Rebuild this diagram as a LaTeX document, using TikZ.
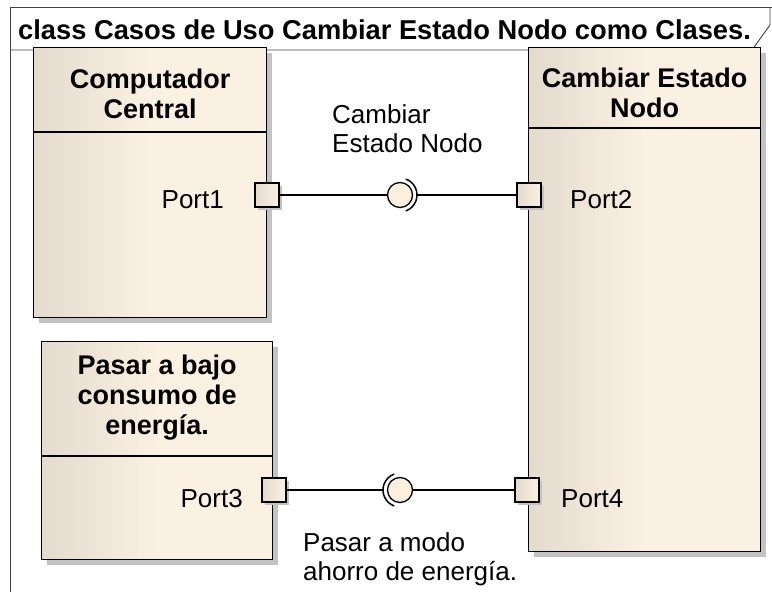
\documentclass[tikz,border=0pt]{standalone}
\usepackage{fontspec}
\setmainfont{Liberation Sans}
\usetikzlibrary{positioning, shadows, calc}

\definecolor{classleft}{RGB}{227,219,206}
\definecolor{classright}{RGB}{251,241,227}
\definecolor{ballfill}{RGB}{251,239,222}
\definecolor{shadowgray}{RGB}{195,195,195}

\begin{document}
\begin{tikzpicture}[
		x=1pt, y=-1pt,
		every node/.style={inner sep=0pt, font=\fontsize{26}{29}\selectfont},
		classbox/.style={draw=black, line width=1.4pt, left color=classleft, right color=classright, middle color=classright,
			drop shadow={shadow xshift=5pt, shadow yshift=-5pt, fill=shadowgray, opacity=1}},
		classtitle/.style={align=center, font=\bfseries\fontsize{27}{30}\selectfont},
		portbox/.style={draw=black, line width=1.3pt, minimum size=24pt, left color=classleft, right color=classright,
			drop shadow={shadow xshift=3pt, shadow yshift=-3pt, fill=shadowgray, opacity=1}},
		portlabel/.style={font=\fontsize{26}{29}\selectfont},
		ball/.style={circle, draw=black, line width=1.3pt, fill=ballfill, minimum size=25pt},
		conn/.style={draw=black, line width=1.3pt},
		frameline/.style={draw=black!75, line width=0.9pt},
		]
		\useasboundingbox (0,0) rectangle (772,592);
		
		% Diagram frame and name tab
		\draw[frameline] (10,592) -- (10,7) -- (772,7);
		\draw[frameline] (10,50) -- (752,50) -- (770,25) -- (770,7);
		\node[anchor=west, font=\bfseries\fontsize{27.3}{30}\selectfont] (title) at (18,30) {class Casos de Uso Cambiar Estado Nodo como Clases.};
		
		% Classes
		\node[classbox, anchor=north west, minimum width=233pt, minimum height=270pt] (central) at (33,47) {};
		\node[classbox, anchor=north west, minimum width=232pt, minimum height=504pt] (estado) at (528,47) {};
		\node[classbox, anchor=north west, minimum width=231pt, minimum height=218pt] (bajo) at (41,341) {};
		
		\draw[line width=1.2pt] ([yshift=-85pt]central.north west) -- ([yshift=-85pt]central.north east);
		\draw[line width=1.2pt] ([yshift=-81pt]estado.north west) -- ([yshift=-81pt]estado.north east);
		\draw[line width=1.2pt] ([yshift=-115pt]bajo.north west) -- ([yshift=-115pt]bajo.north east);
		
		\node[classtitle] (centraltitle) at ([yshift=-47pt]central.north) {Computador\\Central};
		\node[classtitle] (estadotitle) at ([yshift=-46pt]estado.north) {Cambiar Estado\\Nodo};
		\node[classtitle] (bajotitle) at ([yshift=-57pt]bajo.north) {Pasar a bajo\\consumo de\\energía.};
		
		% Interfaces
		\node[ball] (ballA) at (400,195) {};
		\node[ball] (ballB) at (400,490) {};
		\coordinate (sockA) at ([xshift=17pt]ballA.center);
		\coordinate (sockB) at ([xshift=-17pt]ballB.center);
		\draw[conn, line width=1.5pt] ($(ballA.center)+(-70:17)$) arc[start angle=-70, end angle=70, radius=17];
		\draw[conn, line width=1.5pt] ($(ballB.center)+(110:17)$) arc[start angle=110, end angle=250, radius=17];
		
		% Ports
		\node[portbox] (port1) at (267,195) {};
		\node[portbox] (port2) at (529,195) {};
		\node[portbox] (port3) at (274,490) {};
		\node[portbox] (port4) at (527,490) {};
		
		\node[portlabel, anchor=east] (port1lbl) at (224,200) {Port1};
		\node[portlabel, anchor=west] (port2lbl) at (570,200) {Port2};
		\node[portlabel, anchor=east] (port3lbl) at (243,499) {Port3};
		\node[portlabel, anchor=west] (port4lbl) at (561,499) {Port4};
		
		% Connectors
		\draw[conn] (port1) -- (ballA);
		\draw[conn] (sockA) -- (port2);
		\draw[conn] (port3) -- (sockB);
		\draw[conn] (ballB) -- (port4);
		
		\node[anchor=north west, align=left] (labelA) at (332,104) {Cambiar\\Estado Nodo};
		\node[anchor=north west, align=left] (labelB) at (303,532) {Pasar a modo\\ahorro de energía.};
	\end{tikzpicture}
\end{document}
